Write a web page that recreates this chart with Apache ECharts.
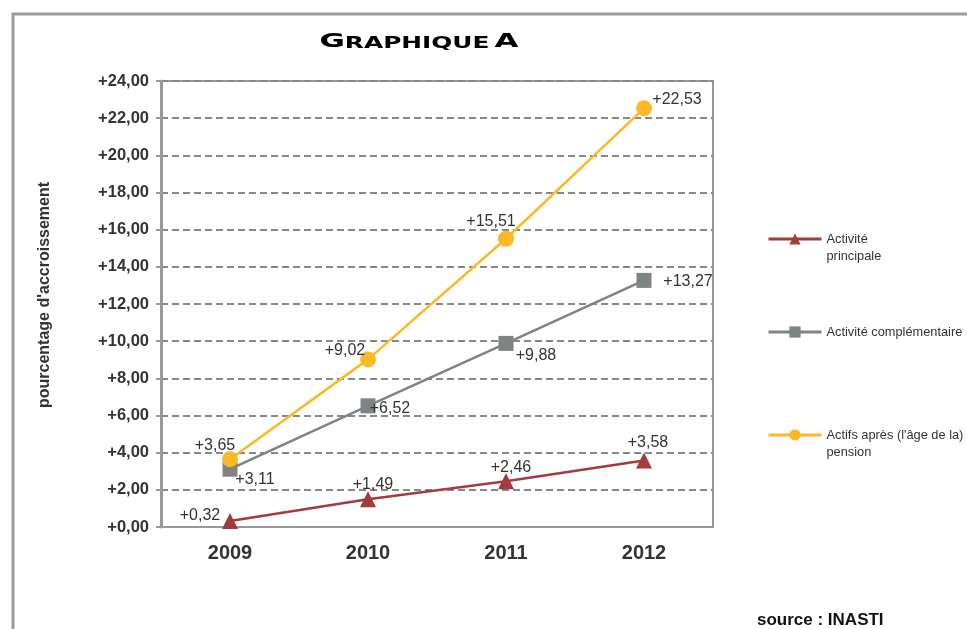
<!DOCTYPE html>
<html>
<head>
<meta charset="utf-8">
<script src="https://cdn.jsdelivr.net/npm/echarts@6/dist/echarts.min.js"></script>
<style>html,body{margin:0;padding:0;background:#fff;}#c{width:967px;height:629px;}</style>
</head>
<body>
<div id="c"></div>
<script>
var years = ['2009', '2010', '2011', '2012'];
var yTicks = [0, 2, 4, 6, 8, 10, 12, 14, 16, 18, 20, 22, 24];
var seriesNames = ['Activité\nprincipale', 'Activité complémentaire', "Actifs après (l'âge de la)\npension"];
var principale = [0.32, 1.49, 2.46, 3.58];
var complementaire = [3.11, 6.52, 9.88, 13.27];
var apres = [3.65, 9.02, 15.51, 22.53];

var fmt = function (v) { return '+' + v.toFixed(2).replace('.', ','); };

// label offsets (styling)
var offPrincipale = [[-30, -5], [5, -15], [5, -14], [4, -18]];
var offComplementaire = [[25, 10], [22, 3], [30, 12], [44, 1]];
var offApres = [[-15, -14], [-23, -9], [-15, -17], [33, -9]];

function buildData(vals, offs) {
  return vals.map(function (v, i) {
    return { value: v, label: { offset: offs[i] } };
  });
}

var FONT = 'Liberation Sans, Arial, sans-serif';
var labelBase = {
  show: true,
  position: 'inside',
  fontFamily: FONT,
  fontSize: 16,
  color: '#333',
  formatter: function (p) { return fmt(p.value); }
};

var chart = echarts.init(document.getElementById('c'));
var legendText = { fontFamily: FONT, fontSize: 12.8, color: '#333', lineHeight: 17 };
chart.setOption({
  animation: false,
  backgroundColor: '#fff',
  title: [{
    text: 'source : INASTI',
    left: 752,
    top: 607,
    textStyle: { fontFamily: FONT, fontWeight: 'bold', fontSize: 17, color: '#111' }
  }],
  graphic: [{
    type: 'polyline',
    shape: { points: [[13, 640], [13, 14], [980, 14]] },
    style: { stroke: '#9a9a9a', lineWidth: 3, fill: null }
  }, {
    type: 'text',
    x: 419,
    y: 42,
    scaleX: 1.55,
    style: {
      text: '{a|G}{b|RAPHIQUE} {a|A}',
      align: 'center',
      verticalAlign: 'middle',
      rich: {
        a: { fontFamily: 'DejaVu Sans', fontWeight: 'bold', fontSize: 20, fill: '#000', verticalAlign: 'bottom' },
        b: { fontFamily: 'DejaVu Sans', fontWeight: 'bold', fontSize: 16, fill: '#000', verticalAlign: 'bottom' }
      }
    }
  }],
  legend: [0, 1, 2].map(function (i) {
    var tops = [213.5, 323.5, 409.5];
    return {
      data: [seriesNames[i]],
      left: 767,
      top: tops[i],
      padding: 0,
      itemWidth: 53,
      itemHeight: 14,
      itemGap: 5,
      lineStyle: { width: 3 },
      formatter: i === 1 ? '{name}' : function (name) { return '\n' + name; },
      textStyle: legendText
    };
  }),
  grid: {
    left: 161, right: 254, top: 81, bottom: 102,
    show: true, borderColor: '#999', borderWidth: 2, backgroundColor: 'transparent'
  },
  xAxis: {
    type: 'category',
    data: years,
    boundaryGap: true,
    axisLine: { lineStyle: { color: '#999', width: 2 } },
    axisTick: { show: false },
    axisLabel: { fontFamily: FONT, fontWeight: 'bold', fontSize: 20, color: '#333', margin: 16 }
  },
  yAxis: {
    type: 'value',
    min: yTicks[0],
    max: yTicks[yTicks.length - 1],
    interval: 2,
    name: "pourcentage d'accroissement",
    nameLocation: 'middle',
    nameGap: 108,
    nameTextStyle: { fontFamily: FONT, fontWeight: 'bold', fontSize: 16, color: '#333', padding: [0, 0, 0, 18] },
    axisLine: { show: true, lineStyle: { color: '#999', width: 3 } },
    axisTick: { show: true, length: 5, lineStyle: { color: '#999', width: 2 } },
    axisLabel: { formatter: fmt, fontFamily: FONT, fontWeight: 'bold', fontSize: 16.5, color: '#333', margin: 12 },
    splitLine: { show: true, lineStyle: { color: '#888', width: 2, type: [7, 4] } }
  },
  series: [{
    name: seriesNames[0],
    type: 'line',
    data: buildData(principale, offPrincipale),
    symbol: 'triangle',
    symbolSize: 16,
    color: '#A23B3C',
    lineStyle: { width: 2.5 },
    itemStyle: { color: '#A23B3C' },
    label: labelBase,
    z: 3
  }, {
    name: seriesNames[1],
    type: 'line',
    data: buildData(complementaire, offComplementaire),
    symbol: 'rect',
    symbolSize: 15,
    color: '#7E8482',
    lineStyle: { width: 2.5 },
    itemStyle: { color: '#7E8482' },
    label: labelBase,
    z: 4
  }, {
    name: seriesNames[2],
    type: 'line',
    data: buildData(apres, offApres),
    symbol: 'circle',
    symbolSize: 16,
    color: '#FDB827',
    lineStyle: { width: 2.5 },
    itemStyle: { color: '#FDB827' },
    label: labelBase,
    z: 5
  }]
});
</script>
</body>
</html>
